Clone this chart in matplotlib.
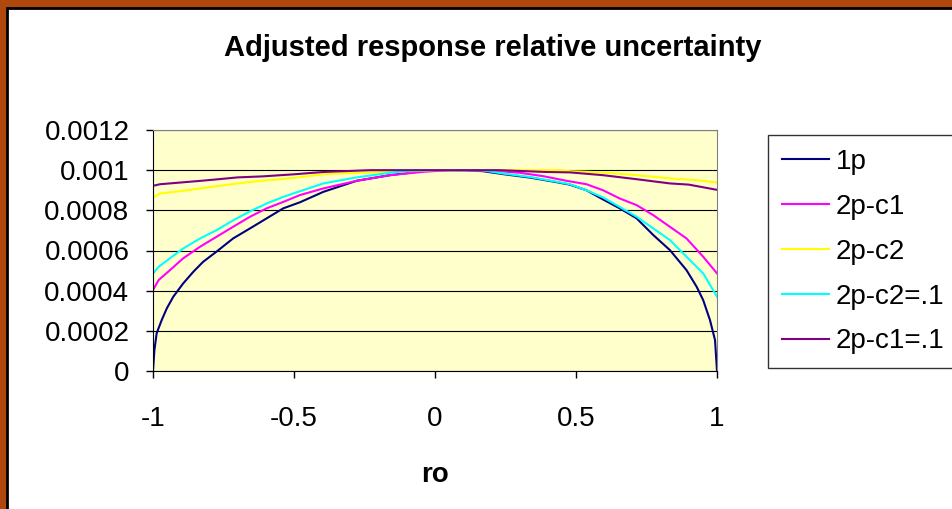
import matplotlib
matplotlib.use('Agg')
import matplotlib.pyplot as plt
from matplotlib.patches import Rectangle

plt.rcParams['font.family'] = ['Liberation Sans', 'DejaVu Sans']

## values (relative uncertainty)
ro_1p = [-1, -0.995, -0.987, -0.969, -0.951, -0.928, -0.893, -0.857, -0.822, -0.775,
         -0.716, -0.656, -0.597, -0.538, -0.479, -0.396, -0.278, -0.16, -0.077, -0.02,
         0.1, 0.17, 0.243, 0.337, 0.432, 0.478, 0.537, 0.596, 0.655, 0.715,
         0.774, 0.833, 0.892, 0.928, 0.951, 0.975, 0.993, 1]
u_1p = [0, 0.000104, 0.000188, 0.000254, 0.000312, 0.00037, 0.000436, 0.000494, 0.000544, 0.000594,
        0.00066, 0.00071, 0.00076, 0.00081, 0.00084, 0.000892, 0.000947, 0.000975, 0.000989, 0.001,
        0.001, 0.000995, 0.00098, 0.000963, 0.00094, 0.000928, 0.0009, 0.000854, 0.00081, 0.00076,
        0.000677, 0.000602, 0.000502, 0.000419, 0.000353, 0.000254, 0.000154, 0]

ro_c1 = [-1, -0.98, -0.94, -0.893, -0.833, -0.775, -0.716, -0.656, -0.597, -0.538,
         -0.479, -0.396, -0.278, -0.16, -0.04, 0.05, 0.2, 0.301, 0.384, 0.467,
         0.537, 0.596, 0.655, 0.715, 0.774, 0.833, 0.892, 0.951, 1]
u_c1 = [0.000403, 0.000453, 0.000502, 0.000561, 0.000619, 0.000668, 0.000718, 0.000768, 0.00081, 0.000842,
        0.000876, 0.000909, 0.000947, 0.000975, 0.000992, 0.001, 0.000998, 0.000987, 0.00097, 0.000947,
        0.00093, 0.0009, 0.000859, 0.000826, 0.000776, 0.000718, 0.00066, 0.000569, 0.000486]

ro_c2 = [-1, -0.975, -0.893, -0.833, -0.775, -0.7, -0.63, -0.55, -0.479, -0.396,
         -0.278, -0.16, -0.04, 0.0, 0.443, 0.478, 0.596, 0.715, 0.833, 0.928, 1]
u_c2 = [0.000864, 0.000884, 0.000897, 0.000909, 0.00092, 0.000934, 0.000945, 0.000955, 0.000965, 0.00098,
        0.000987, 0.000992, 0.000997, 0.001, 0.001, 0.000995, 0.000989, 0.000975, 0.000959, 0.00095, 0.000939]

ro_c2_1 = [-1, -0.98, -0.94, -0.893, -0.833, -0.775, -0.716, -0.656, -0.597, -0.538,
           -0.479, -0.396, -0.278, -0.16, -0.09, 0.0, 0.166, 0.243, 0.337, 0.432,
           0.478, 0.537, 0.596, 0.655, 0.715, 0.774, 0.833, 0.892, 0.951, 1]
u_c2_1 = [0.000486, 0.000519, 0.000561, 0.00061, 0.00066, 0.000701, 0.00075, 0.000795, 0.000834, 0.000867,
          0.000895, 0.000934, 0.000964, 0.000987, 0.000997, 0.001, 0.001, 0.000983, 0.000966, 0.000942,
          0.00093, 0.0009, 0.000864, 0.000817, 0.000768, 0.00071, 0.000652, 0.000569, 0.000486, 0.00037]

ro_c1_1 = [-1, -0.975, -0.898, -0.83, -0.775, -0.7, -0.612, -0.504, -0.395, -0.23,
           0.229, 0.392, 0.478, 0.596, 0.715, 0.833, 0.9, 1]
u_c1_1 = [0.000922, 0.00093, 0.000939, 0.000947, 0.000954, 0.000964, 0.000969, 0.000979, 0.000991, 0.001,
          0.001, 0.000991, 0.000989, 0.000975, 0.000955, 0.000934, 0.000928, 0.000902]

labels = ['1p', '2p-c1', '2p-c2', '2p-c2=.1', '2p-c1=.1']
colors = ['#000080', '#FF00FF', '#FFFF00', '#00FFFF', '#800080']

xticks = [-1, -0.5, 0, 0.5, 1]
xticklabels = ['-1', '-0.5', '0', '0.5', '1']
yticks = [0, 0.0002, 0.0004, 0.0006, 0.0008, 0.001, 0.0012]
yticklabels = ['0', '0.0002', '0.0004', '0.0006', '0.0008', '0.001', '0.0012']

W, H = 952, 509
fig = plt.figure(figsize=(W / 100, H / 100), dpi=100)
fig.patch.set_facecolor('#B0470C')

## white chart area with black frame, behind the axes
fig.patches.append(Rectangle((7 / W, -0.05), 1.1, 1 - 8 / H + 0.05, transform=fig.transFigure,
                             facecolor='white', edgecolor='black', linewidth=2, zorder=-5))

ax = fig.add_axes([153 / W, 1 - 371 / H, (717 - 153) / W, (371 - 130) / H])
ax.set_facecolor('#FFFFCC')

series = [(ro_1p, u_1p), (ro_c1, u_c1), (ro_c2, u_c2), (ro_c2_1, u_c2_1), (ro_c1_1, u_c1_1)]
for (x, y), lab, c in zip(series, labels, colors):
    ax.plot(x, y, color=c, linewidth=1.5, label=lab)

ax.set_xlim(-1, 1)
ax.set_ylim(0, 0.0012)
ax.set_xticks(xticks)
ax.set_xticklabels(xticklabels)
ax.set_yticks(yticks)
ax.set_yticklabels(yticklabels)
ax.tick_params(axis='both', labelsize=20, length=5, width=1, color='black', direction='out')
ax.tick_params(axis='y', pad=12)
ax.tick_params(axis='x', pad=20)
ax.yaxis.grid(True, color='black', linewidth=0.8)
ax.set_axisbelow(True)
for s in ['top', 'right']:
    ax.spines[s].set_color('#808080')
for s in ['left', 'bottom']:
    ax.spines[s].set_color('black')

ax.set_xlabel('ro', fontsize=20, fontweight='bold', labelpad=22)
fig.text(493 / W, 1 - 48 / H, 'Adjusted response relative uncertainty',
         ha='center', va='center', fontsize=21, fontweight='bold')

leg = fig.legend(loc='upper left', bbox_to_anchor=(768 / W, 1 - 135 / H), bbox_transform=fig.transFigure,
                 fontsize=20, frameon=True, fancybox=False, borderaxespad=0, handlelength=1.7,
                 handletextpad=0.25, labelspacing=0.68, borderpad=0.5)
leg.get_frame().set_edgecolor('black')
leg.get_frame().set_linewidth(1)

fig.savefig('out.png', dpi=100, facecolor=fig.get_facecolor())
